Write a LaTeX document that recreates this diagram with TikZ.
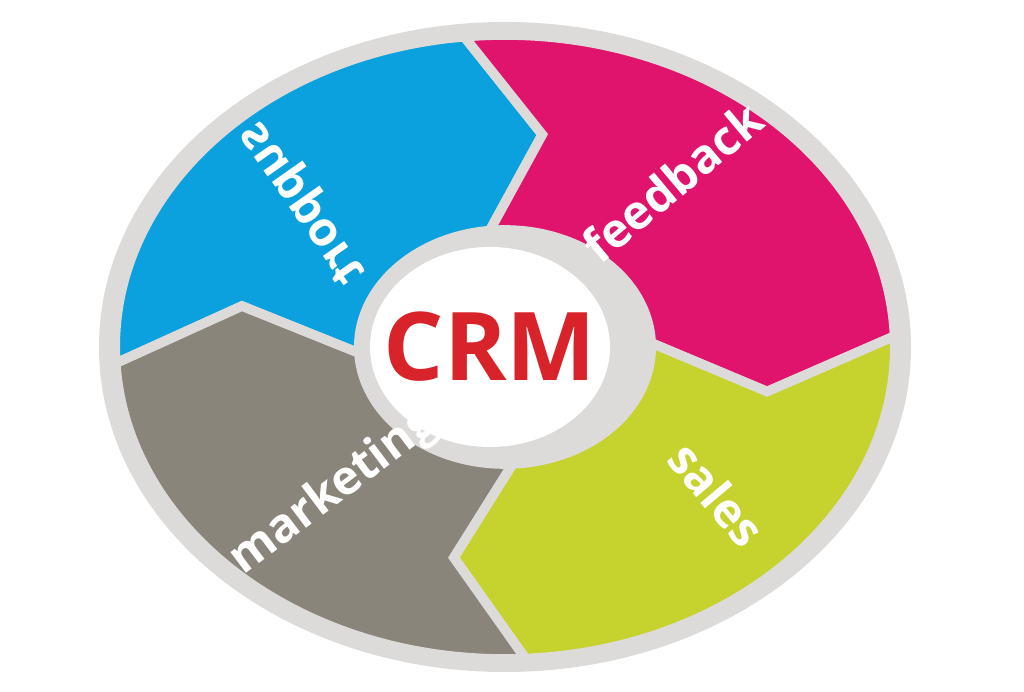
\documentclass[tikz,border=0pt]{standalone}
\usepackage{fontspec}
\setmainfont{Open Sans}
\definecolor{cblue}{HTML}{0BA0DE}
\definecolor{cpink}{HTML}{E0136D}
\definecolor{cgreen}{HTML}{C6D22D}
\definecolor{cgrey}{HTML}{8A857B}
\definecolor{cring}{HTML}{DDDBD9}
\definecolor{cred}{HTML}{D9232B}
\tikzset{lab/.style={text=white,font=\bfseries\fontsize{27}{30}\selectfont,inner sep=0pt},
 segm/.style={draw=cring,line width=5.5pt,line join=miter}}
\begin{document}
\begin{tikzpicture}[x=0.02cm,y=0.02cm]
\useasboundingbox (0,0) rectangle (1024,692);
\fill[white] (0,0) rectangle (1024,692);
\begin{scope}[shift={(505,345)}]
\fill[cring] (0,0) ellipse[x radius=406,y radius=325];
\fill[cblue,segm] (183:389.8 and 312) arc[start angle=183,end angle=96,x radius=389.8,y radius=312] -- (82:268 and 214.5) -- (96:146.2 and 117) arc[start angle=96,end angle=183,x radius=146.2,y radius=117] -- (169:268 and 214.5) -- cycle;
\fill[cpink,segm] (96:389.8 and 312) arc[start angle=96,end angle=2,x radius=389.8,y radius=312] -- (-12:268 and 214.5) -- (2:146.2 and 117) arc[start angle=2,end angle=96,x radius=146.2,y radius=117] -- (82:268 and 214.5) -- cycle;
\fill[cgreen,segm] (2:389.8 and 312) arc[start angle=2,end angle=-87,x radius=389.8,y radius=312] -- (-101:268 and 214.5) -- (-87:146.2 and 117) arc[start angle=-87,end angle=2,x radius=146.2,y radius=117] -- (-12:268 and 214.5) -- cycle;
\fill[cgrey,segm] (273:389.8 and 312) arc[start angle=273,end angle=183,x radius=389.8,y radius=312] -- (169:268 and 214.5) -- (183:146.2 and 117) arc[start angle=183,end angle=273,x radius=146.2,y radius=117] -- (259:268 and 214.5) -- cycle;
\end{scope}
\fill[white] (490,345) ellipse[x radius=120,y radius=100];
\node[text=cred,font=\bfseries\fontsize{54}{60}\selectfont,inner sep=0pt] (crm) at (490,345) {CRM};
\node[lab,rotate=37] (m) at (334,200) {marketing};
\node[lab,rotate=-50] (s) at (717,198) {sales};
\node[lab,rotate=40] (f) at (672,510) {feedback};
\node[lab,rotate=-55,yscale=-1] (p) at (305,490) {support};
\end{tikzpicture}
\end{document}
